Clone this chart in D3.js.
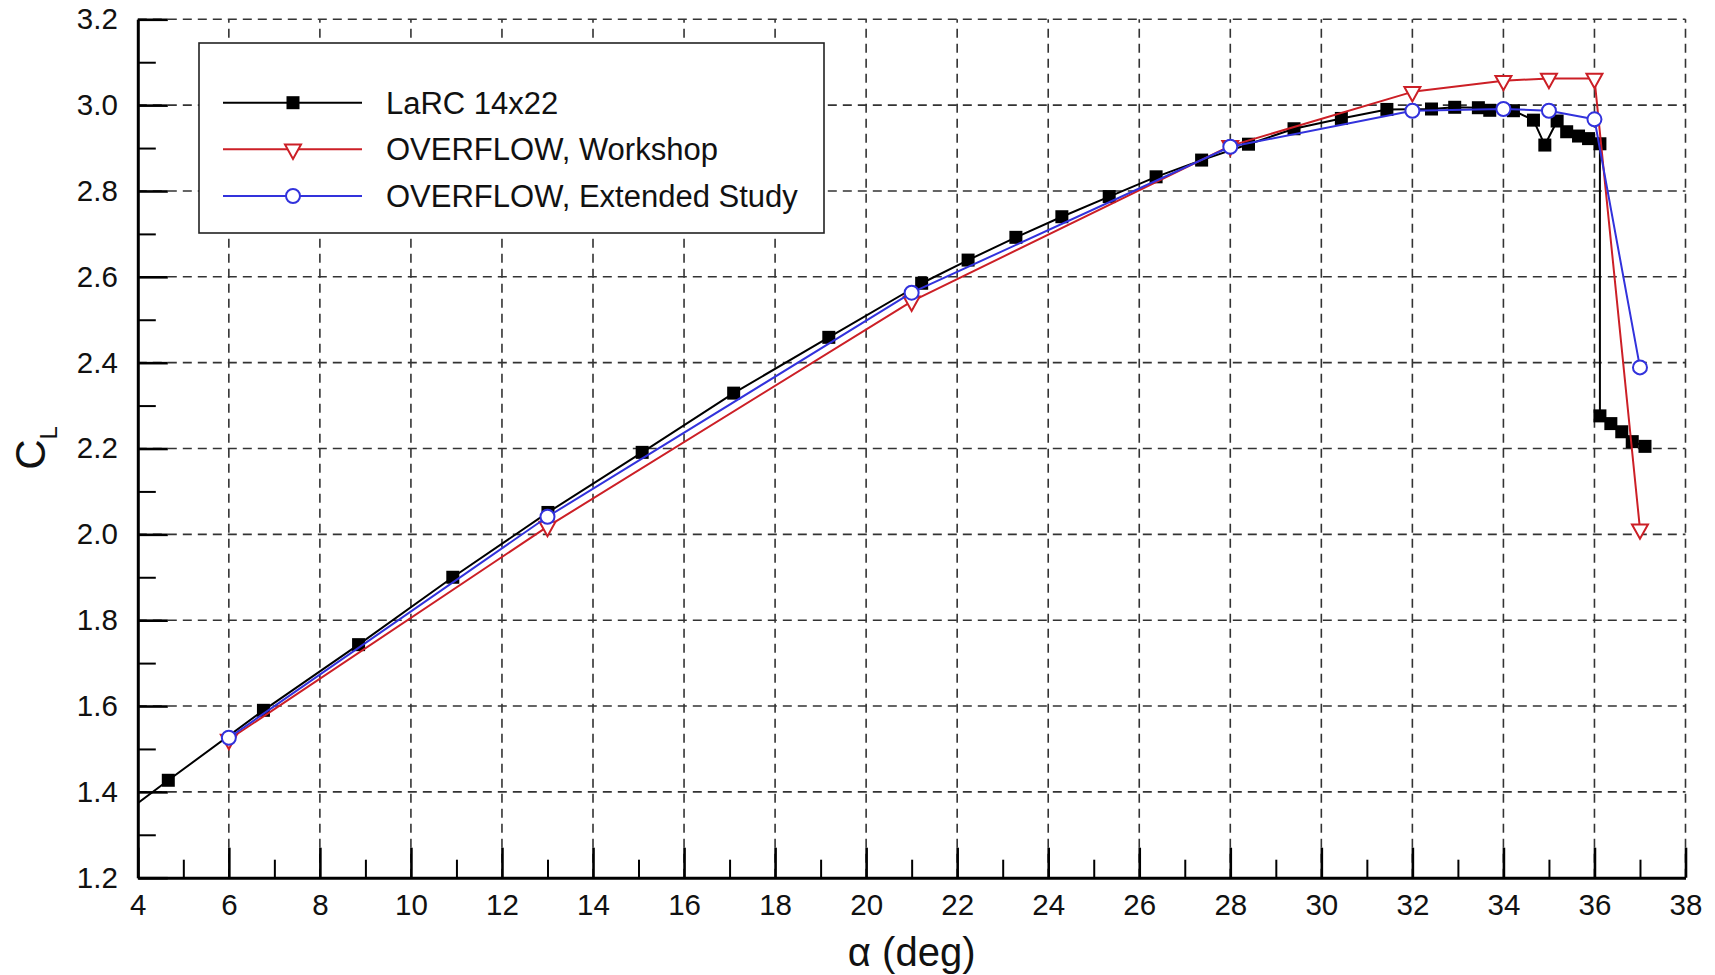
<!DOCTYPE html>
<html>
<head>
<meta charset="utf-8">
<script src="https://cdn.jsdelivr.net/npm/d3@7/dist/d3.min.js"></script>
<style>
  html, body { margin: 0; padding: 0; background: #fff; }
  svg { display: block; font-family: "Liberation Sans", Arial, Helvetica, sans-serif; }
</style>
</head>
<body>
<svg id="chart" width="1715" height="975"></svg>
<script>
// ---------------- data ----------------
const seriesNames = ["LaRC 14x22", "OVERFLOW, Workshop", "OVERFLOW, Extended Study"];

const larcAlpha = [2.6, 4.67, 6.76, 8.85, 10.92, 13.01, 15.08, 17.09, 19.18, 21.22, 22.24, 23.29, 24.30,
  25.34, 26.37, 27.37, 28.40, 29.40, 30.44, 31.44, 32.42, 32.93, 33.45, 33.70, 34.22, 34.66, 34.91,
  35.18, 35.39, 35.65, 35.87, 36.12, 36.12, 36.36, 36.60, 36.83, 37.11];
const larcCL = [1.262, 1.427, 1.590, 1.743, 1.900, 2.051, 2.191, 2.329, 2.459, 2.585, 2.639, 2.692, 2.740,
  2.787, 2.833, 2.872, 2.909, 2.945, 2.969, 2.990, 2.991, 2.995, 2.994, 2.988, 2.987, 2.965, 2.907,
  2.963, 2.938, 2.928, 2.922, 2.910, 2.276, 2.258, 2.239, 2.216, 2.205];

const workshopAlpha = [6, 13, 21, 28, 32, 34, 35, 36, 37];
const workshopCL = [1.522, 2.018, 2.543, 2.905, 3.031, 3.057, 3.062, 3.062, 2.012];

const extendedAlpha = [6, 13, 21, 28, 32, 34, 35, 36, 37];
const extendedCL = [1.526, 2.041, 2.563, 2.903, 2.987, 2.991, 2.987, 2.967, 2.389];

const xMajorTicks = [4, 6, 8, 10, 12, 14, 16, 18, 20, 22, 24, 26, 28, 30, 32, 34, 36, 38];
const xMinorTicks = [5, 7, 9, 11, 13, 15, 17, 19, 21, 23, 25, 27, 29, 31, 33, 35, 37];
const yMajorTicks = [1.2, 1.4, 1.6, 1.8, 2.0, 2.2, 2.4, 2.6, 2.8, 3.0, 3.2];
const yMinorTicks = [1.3, 1.5, 1.7, 1.9, 2.1, 2.3, 2.5, 2.7, 2.9, 3.1];

const xTitle = "α (deg)";
const yTitleMain = "C";
const yTitleSub = "L";

// ---------------- layout ----------------
const svg = d3.select("#chart");
const pLeft = 137.8, pRight = 1685.5, pTop = 19.3, pBottom = 877.7;

const x = d3.scaleLinear().domain([4, 38]).range([pLeft, pRight]);
const y = d3.scaleLinear().domain([1.2, 3.2]).range([pBottom, pTop]);

const colors = ["#000000", "#cc1f26", "#3232dc"];

// grid
const grid = svg.append("g").attr("class", "grid")
  .attr("stroke", "#333").attr("stroke-width", 1.6).attr("stroke-dasharray", "9,6");
grid.selectAll("line.gx").data(xMajorTicks.filter(d => d > 4)).join("line")
  .attr("class", "gx")
  .attr("x1", d => x(d)).attr("x2", d => x(d)).attr("y1", y(1.2)).attr("y2", y(3.2));
grid.selectAll("line.gy").data(yMajorTicks.filter(d => d > 1.2)).join("line")
  .attr("class", "gy")
  .attr("x1", x(4)).attr("x2", x(38)).attr("y1", d => y(d)).attr("y2", d => y(d));

// axes
const font = "29.5px";
const xAxis = svg.append("g").attr("transform", `translate(0,${pBottom})`)
  .call(d3.axisBottom(x).tickValues(xMajorTicks).tickFormat(d3.format("d"))
    .tickSizeInner(-30).tickSizeOuter(0).tickPadding(16));
xAxis.select(".domain").attr("stroke-width", 3);
xAxis.selectAll(".tick line").attr("stroke-width", 2.6);
xAxis.selectAll("text").attr("font-size", font).attr("fill", "#111")
  .attr("font-family", "Liberation Sans, Arial, sans-serif");

const xMinor = svg.append("g").attr("transform", `translate(0,${pBottom})`)
  .call(d3.axisBottom(x).tickValues(xMinorTicks).tickFormat("").tickSizeInner(-18).tickSizeOuter(0));
xMinor.select(".domain").remove();
xMinor.selectAll(".tick line").attr("stroke-width", 2);

const yAxis = svg.append("g").attr("transform", `translate(${pLeft},0)`)
  .call(d3.axisLeft(y).tickValues(yMajorTicks).tickFormat(d3.format(".1f"))
    .tickSizeInner(-30).tickSizeOuter(0).tickPadding(20));
yAxis.select(".domain").attr("stroke-width", 3);
yAxis.selectAll(".tick line").attr("stroke-width", 2.6);
yAxis.selectAll("text").attr("font-size", font).attr("fill", "#111")
  .attr("font-family", "Liberation Sans, Arial, sans-serif");

const yMinor = svg.append("g").attr("transform", `translate(${pLeft},0)`)
  .call(d3.axisLeft(y).tickValues(yMinorTicks).tickFormat("").tickSizeInner(-18).tickSizeOuter(0));
yMinor.select(".domain").remove();
yMinor.selectAll(".tick line").attr("stroke-width", 2);

// titles
svg.append("text")
  .attr("x", (pLeft + pRight) / 2).attr("y", 966)
  .attr("text-anchor", "middle").attr("font-size", "40px").attr("fill", "#111")
  .text(xTitle);

const yt = svg.append("text")
  .attr("transform", `translate(45,448) rotate(-90)`)
  .attr("text-anchor", "middle").attr("fill", "#111");
yt.append("tspan").attr("font-size", "42px").text(yTitleMain);
yt.append("tspan").attr("font-size", "24px").attr("dy", 12).text(yTitleSub);

// clip
svg.append("clipPath").attr("id", "plotclip").append("rect")
  .attr("x", pLeft).attr("y", pTop - 12).attr("width", pRight - pLeft + 12).attr("height", pBottom - pTop + 12);

const plot = svg.append("g").attr("clip-path", "url(#plotclip)");

const series = [
  { alpha: larcAlpha, cl: larcCL },
  { alpha: workshopAlpha, cl: workshopCL },
  { alpha: extendedAlpha, cl: extendedCL }
];
const line = d3.line().x(d => x(d[0])).y(d => y(d[1]));

const sqSize = 13, triSize = 16, circR = 7;
function drawMarker(g, i, cx, cy) {
  if (i === 0) {
    g.append("rect").attr("x", cx - sqSize / 2).attr("y", cy - sqSize / 2)
      .attr("width", sqSize).attr("height", sqSize).attr("fill", "#000");
  } else if (i === 1) {
    const h = triSize * 0.9, w = triSize;
    g.append("path")
      .attr("d", `M${cx - w / 2},${cy - h / 3} L${cx + w / 2},${cy - h / 3} L${cx},${cy + 2 * h / 3} Z`)
      .attr("fill", "#fff").attr("stroke", colors[1]).attr("stroke-width", 2);
  } else {
    g.append("circle").attr("cx", cx).attr("cy", cy).attr("r", circR)
      .attr("fill", "#fff").attr("stroke", colors[2]).attr("stroke-width", 2);
  }
}

series.forEach((s, i) => {
  const pts = s.alpha.map((a, j) => [a, s.cl[j]]);
  const g = plot.append("g");
  g.append("path").attr("d", line(pts)).attr("fill", "none")
    .attr("stroke", colors[i]).attr("stroke-width", 2).attr("stroke-linejoin", "round");
  pts.forEach(p => drawMarker(g, i, x(p[0]), y(p[1])));
});

// legend
const lg = svg.append("g");
lg.append("rect").attr("x", 199).attr("y", 43).attr("width", 625).attr("height", 190)
  .attr("fill", "#fff").attr("stroke", "#222").attr("stroke-width", 1.6);
const rowY = [102.7, 149.3, 196];
seriesNames.forEach((name, i) => {
  lg.append("line").attr("x1", 223).attr("x2", 362).attr("y1", rowY[i]).attr("y2", rowY[i])
    .attr("stroke", colors[i]).attr("stroke-width", 2);
  drawMarker(lg, i, 293, rowY[i]);
  lg.append("text").attr("x", 386).attr("y", rowY[i] + 11).attr("font-size", "31px")
    .attr("fill", "#111").text(name);
});
</script>
</body>
</html>
